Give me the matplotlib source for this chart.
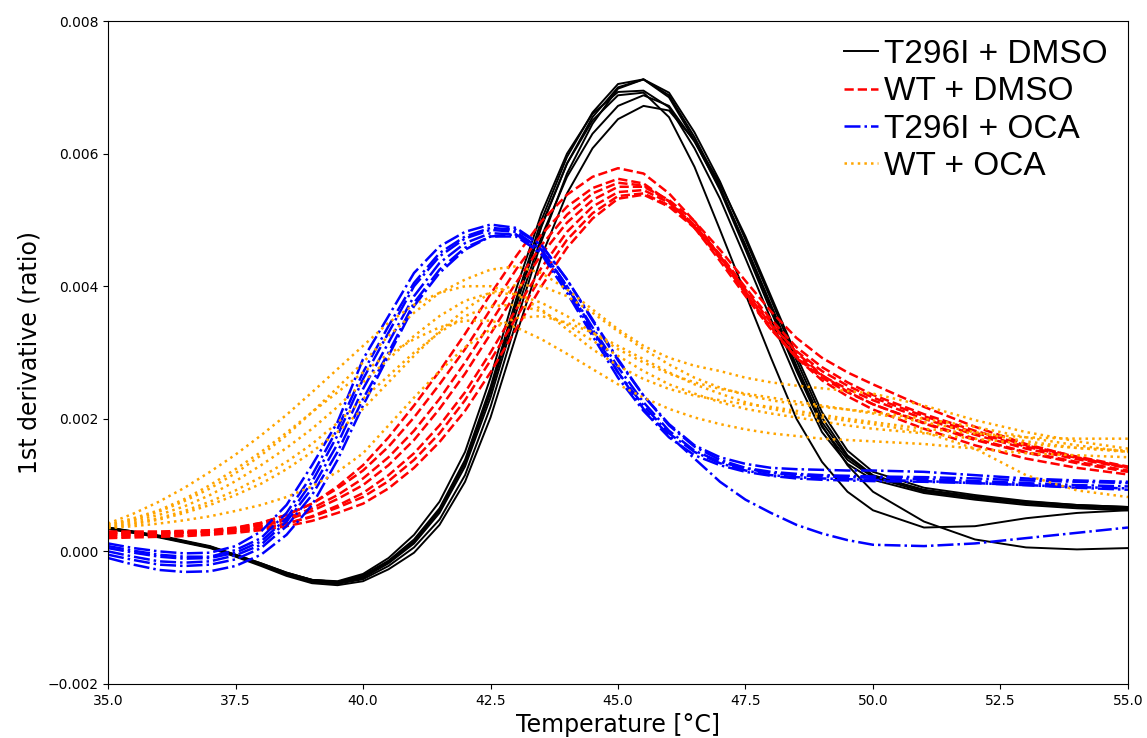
import numpy as np
import matplotlib
matplotlib.use("Agg")
import matplotlib.pyplot as plt

# Temperature grid (°C)
temps = [35, 35.5, 36, 36.5, 37, 37.5, 38, 38.5, 39, 39.5, 40, 40.5, 41, 41.5, 42, 42.5,
         43, 43.5, 44, 44.5, 45, 45.5, 46, 46.5, 47, 47.5, 48, 48.5, 49, 49.5, 50,
         51, 52, 53, 54, 55]

# 1st derivative values, in units of 1e-3
t296i_dmso = [
    [0.36, 0.30, 0.23, 0.15, 0.07, -0.05, -0.18, -0.32, -0.43, -0.46, -0.36, -0.14, 0.18, 0.65, 1.38, 2.48, 3.80, 5.00, 5.95, 6.62, 7.05, 7.12, 6.85, 6.20, 5.45, 4.55, 3.62, 2.72, 1.88, 1.38, 1.12, 0.90, 0.80, 0.72, 0.67, 0.64],
    [0.34, 0.28, 0.22, 0.14, 0.06, -0.07, -0.20, -0.35, -0.46, -0.49, -0.42, -0.22, 0.06, 0.48, 1.15, 2.18, 3.45, 4.68, 5.70, 6.45, 6.98, 7.12, 6.92, 6.32, 5.58, 4.70, 3.80, 2.88, 2.02, 1.45, 1.15, 0.92, 0.82, 0.74, 0.69, 0.66],
    [0.35, 0.29, 0.23, 0.15, 0.07, -0.06, -0.19, -0.33, -0.43, -0.45, -0.34, -0.10, 0.25, 0.75, 1.50, 2.62, 3.95, 5.10, 6.00, 6.60, 6.93, 6.95, 6.70, 6.08, 5.32, 4.42, 3.50, 2.60, 1.80, 1.32, 1.08, 0.88, 0.78, 0.70, 0.65, 0.62],
    [0.35, 0.29, 0.22, 0.14, 0.06, -0.07, -0.20, -0.34, -0.45, -0.48, -0.40, -0.18, 0.12, 0.58, 1.28, 2.32, 3.60, 4.75, 5.65, 6.30, 6.72, 6.88, 6.72, 6.18, 5.48, 4.62, 3.72, 2.80, 1.95, 1.42, 1.14, 0.93, 0.83, 0.75, 0.70, 0.67],
    [0.34, 0.28, 0.21, 0.13, 0.05, -0.08, -0.22, -0.37, -0.48, -0.51, -0.45, -0.27, -0.02, 0.40, 1.05, 2.02, 3.25, 4.45, 5.40, 6.08, 6.52, 6.72, 6.65, 6.20, 5.55, 4.75, 3.85, 2.95, 2.10, 1.52, 1.20, 0.96, 0.85, 0.76, 0.70, 0.67],
    [0.35, 0.29, 0.23, 0.15, 0.07, -0.06, -0.19, -0.33, -0.44, -0.47, -0.38, -0.16, 0.15, 0.62, 1.35, 2.42, 3.72, 4.92, 5.85, 6.50, 6.88, 6.92, 6.55, 5.80, 4.85, 3.88, 2.92, 2.00, 1.35, 0.90, 0.62, 0.36, 0.38, 0.50, 0.58, 0.62],
    [0.36, 0.30, 0.24, 0.16, 0.08, -0.05, -0.18, -0.32, -0.43, -0.46, -0.38, -0.16, 0.15, 0.62, 1.33, 2.40, 3.70, 4.90, 5.85, 6.55, 7.00, 7.12, 6.88, 6.25, 5.50, 4.60, 3.68, 2.75, 1.90, 1.30, 0.90, 0.45, 0.18, 0.06, 0.03, 0.05],
]

wt_dmso = [
    [0.25, 0.25, 0.26, 0.28, 0.30, 0.35, 0.43, 0.55, 0.72, 0.98, 1.30, 1.72, 2.20, 2.72, 3.28, 3.88, 4.45, 4.98, 5.38, 5.65, 5.78, 5.70, 5.40, 4.98, 4.45, 3.88, 3.35, 2.92, 2.62, 2.40, 2.22, 1.94, 1.70, 1.50, 1.35, 1.22],
    [0.30, 0.30, 0.30, 0.31, 0.32, 0.36, 0.43, 0.55, 0.72, 0.95, 1.22, 1.58, 2.02, 2.52, 3.05, 3.65, 4.25, 4.78, 5.20, 5.48, 5.62, 5.55, 5.28, 4.88, 4.38, 3.85, 3.35, 2.95, 2.65, 2.45, 2.28, 2.00, 1.76, 1.55, 1.39, 1.26],
    [0.28, 0.28, 0.28, 0.29, 0.30, 0.34, 0.40, 0.50, 0.65, 0.85, 1.10, 1.42, 1.82, 2.30, 2.85, 3.45, 4.05, 4.62, 5.08, 5.40, 5.56, 5.52, 5.28, 4.92, 4.45, 3.92, 3.42, 3.02, 2.72, 2.50, 2.32, 2.04, 1.79, 1.58, 1.41, 1.27],
    [0.22, 0.23, 0.24, 0.25, 0.27, 0.30, 0.34, 0.42, 0.53, 0.69, 0.88, 1.15, 1.48, 1.90, 2.40, 3.00, 3.65, 4.28, 4.82, 5.20, 5.42, 5.45, 5.26, 4.92, 4.48, 3.98, 3.50, 3.08, 2.78, 2.55, 2.36, 2.07, 1.82, 1.60, 1.43, 1.28],
    [0.26, 0.26, 0.27, 0.28, 0.29, 0.31, 0.35, 0.42, 0.52, 0.66, 0.82, 1.06, 1.38, 1.78, 2.28, 2.88, 3.52, 4.15, 4.70, 5.10, 5.36, 5.40, 5.22, 4.90, 4.45, 3.95, 3.45, 3.00, 2.66, 2.41, 2.22, 1.93, 1.68, 1.49, 1.33, 1.20],
    [0.28, 0.28, 0.28, 0.29, 0.30, 0.33, 0.38, 0.47, 0.61, 0.79, 1.00, 1.30, 1.68, 2.15, 2.68, 3.28, 3.90, 4.48, 4.96, 5.30, 5.50, 5.50, 5.30, 4.98, 4.55, 4.08, 3.62, 3.22, 2.92, 2.70, 2.52, 2.18, 1.88, 1.62, 1.42, 1.26],
    [0.20, 0.21, 0.22, 0.23, 0.25, 0.28, 0.32, 0.38, 0.46, 0.58, 0.72, 0.95, 1.26, 1.65, 2.12, 2.70, 3.35, 4.00, 4.58, 5.02, 5.32, 5.38, 5.20, 4.88, 4.42, 3.90, 3.38, 2.92, 2.58, 2.34, 2.14, 1.85, 1.60, 1.40, 1.26, 1.16],
]

t296i_oca = [
    [0.12, 0.05, 0.00, -0.03, -0.02, 0.08, 0.30, 0.70, 1.30, 1.95, 2.90, 3.55, 4.20, 4.60, 4.82, 4.93, 4.88, 4.62, 4.10, 3.50, 2.90, 2.35, 1.92, 1.60, 1.42, 1.32, 1.26, 1.24, 1.23, 1.22, 1.22, 1.20, 1.15, 1.10, 1.07, 1.05],
    [0.05, -0.02, -0.08, -0.11, -0.10, -0.02, 0.15, 0.50, 1.05, 1.75, 2.60, 3.30, 4.00, 4.45, 4.72, 4.85, 4.82, 4.55, 4.00, 3.38, 2.78, 2.25, 1.82, 1.52, 1.35, 1.25, 1.18, 1.15, 1.13, 1.12, 1.11, 1.09, 1.06, 1.03, 1.00, 0.98],
    [-0.05, -0.13, -0.20, -0.22, -0.20, -0.12, 0.05, 0.38, 0.85, 1.50, 2.30, 3.00, 3.75, 4.25, 4.58, 4.75, 4.75, 4.50, 3.95, 3.30, 2.70, 2.20, 1.78, 1.50, 1.33, 1.22, 1.15, 1.12, 1.10, 1.09, 1.08, 1.06, 1.03, 1.00, 0.97, 0.95],
    [-0.10, -0.20, -0.28, -0.31, -0.30, -0.22, -0.05, 0.25, 0.70, 1.38, 2.20, 2.95, 3.70, 4.20, 4.55, 4.75, 4.78, 4.55, 4.00, 3.35, 2.70, 2.15, 1.75, 1.40, 1.05, 0.78, 0.58, 0.40, 0.27, 0.17, 0.10, 0.08, 0.12, 0.20, 0.28, 0.36],
    [0.08, 0.01, -0.05, -0.08, -0.08, 0.02, 0.20, 0.58, 1.15, 1.85, 2.70, 3.40, 4.05, 4.50, 4.75, 4.88, 4.85, 4.62, 4.10, 3.48, 2.88, 2.35, 1.90, 1.58, 1.38, 1.26, 1.20, 1.17, 1.15, 1.14, 1.13, 1.12, 1.10, 1.07, 1.05, 1.03],
    [0.00, -0.08, -0.15, -0.17, -0.15, -0.06, 0.10, 0.45, 0.95, 1.62, 2.45, 3.15, 3.85, 4.35, 4.65, 4.80, 4.78, 4.48, 3.90, 3.25, 2.62, 2.12, 1.72, 1.45, 1.30, 1.20, 1.14, 1.10, 1.08, 1.07, 1.06, 1.05, 1.03, 1.00, 0.96, 0.93],
]

wt_oca = [
    [0.40, 0.48, 0.60, 0.76, 0.95, 1.18, 1.45, 1.75, 2.10, 2.47, 2.85, 3.25, 3.60, 3.90, 4.10, 4.25, 4.30, 4.20, 3.95, 3.65, 3.35, 3.10, 2.92, 2.80, 2.72, 2.62, 2.55, 2.50, 2.46, 2.42, 2.38, 2.20, 1.98, 1.80, 1.66, 1.55],
    [0.42, 0.57, 0.75, 0.96, 1.20, 1.46, 1.75, 2.06, 2.40, 2.75, 3.10, 3.45, 3.72, 3.90, 4.00, 4.00, 3.88, 3.65, 3.35, 3.05, 2.80, 2.60, 2.45, 2.35, 2.28, 2.22, 2.18, 2.12, 2.06, 2.00, 1.95, 1.85, 1.78, 1.72, 1.70, 1.70],
    [0.38, 0.46, 0.55, 0.68, 0.85, 1.06, 1.30, 1.56, 1.85, 2.18, 2.55, 2.90, 3.25, 3.55, 3.78, 3.90, 3.88, 3.75, 3.55, 3.30, 3.05, 2.85, 2.68, 2.55, 2.45, 2.38, 2.32, 2.26, 2.20, 2.14, 2.08, 1.95, 1.80, 1.66, 1.56, 1.50],
    [0.35, 0.38, 0.42, 0.47, 0.53, 0.61, 0.70, 0.82, 0.98, 1.20, 1.48, 1.90, 2.32, 2.72, 3.08, 3.35, 3.52, 3.55, 3.45, 3.30, 3.10, 2.90, 2.70, 2.52, 2.38, 2.25, 2.15, 2.08, 2.02, 1.97, 1.92, 1.80, 1.55, 1.15, 0.92, 0.82],
    [0.40, 0.50, 0.62, 0.79, 1.00, 1.24, 1.50, 1.79, 2.10, 2.40, 2.70, 2.98, 3.20, 3.38, 3.48, 3.48, 3.38, 3.20, 2.98, 2.75, 2.52, 2.32, 2.15, 2.02, 1.92, 1.84, 1.78, 1.74, 1.70, 1.68, 1.66, 1.62, 1.55, 1.48, 1.45, 1.42],
    [0.37, 0.43, 0.50, 0.61, 0.75, 0.92, 1.12, 1.35, 1.62, 1.94, 2.30, 2.65, 3.00, 3.30, 3.55, 3.70, 3.72, 3.62, 3.42, 3.18, 2.95, 2.72, 2.52, 2.38, 2.25, 2.15, 2.08, 2.02, 1.96, 1.90, 1.85, 1.78, 1.70, 1.62, 1.56, 1.52],
    [0.36, 0.41, 0.48, 0.58, 0.70, 0.85, 1.02, 1.24, 1.50, 1.80, 2.15, 2.55, 2.95, 3.32, 3.65, 3.90, 4.02, 4.00, 3.85, 3.60, 3.32, 3.05, 2.82, 2.62, 2.47, 2.36, 2.28, 2.22, 2.18, 2.14, 2.10, 2.00, 1.88, 1.72, 1.60, 1.50],
]

labels = ["T296I + DMSO", "WT + DMSO", "T296I + OCA", "WT + OCA"]
groups = [t296i_dmso, wt_dmso, t296i_oca, wt_oca]
colors = ["black", "red", "blue", "orange"]
styles = ["-", "--", "-.", ":"]
widths = [1.4, 1.8, 1.8, 1.8]

fig = plt.figure(figsize=(11.47, 7.38), dpi=100)
ax = fig.add_axes([0.0942, 0.0732, 0.8892, 0.8983])

x = np.array(temps)
handles = []
for grp, col, ls, lw in zip(groups, colors, styles, widths):
    for i, c in enumerate(grp):
        ln, = ax.plot(x, np.array(c) * 1e-3, color=col, linestyle=ls, linewidth=lw)
        if i == 0:
            handles.append(ln)

ax.set_xlim(35, 55)
ax.set_ylim(-0.002, 0.008)
ax.set_xlabel("Temperature [°C]", fontsize=17)
ax.set_ylabel("1st derivative (ratio)", fontsize=17)

ax.legend(handles=handles, labels=labels, loc="upper right", frameon=False,
          bbox_to_anchor=(1.0, 1.003),
          prop={"family": "Liberation Sans", "size": 24},
          handlelength=1.0, handletextpad=0.2, labelspacing=0.19,
          borderaxespad=0.2)

fig.savefig("out.png", dpi=100)
